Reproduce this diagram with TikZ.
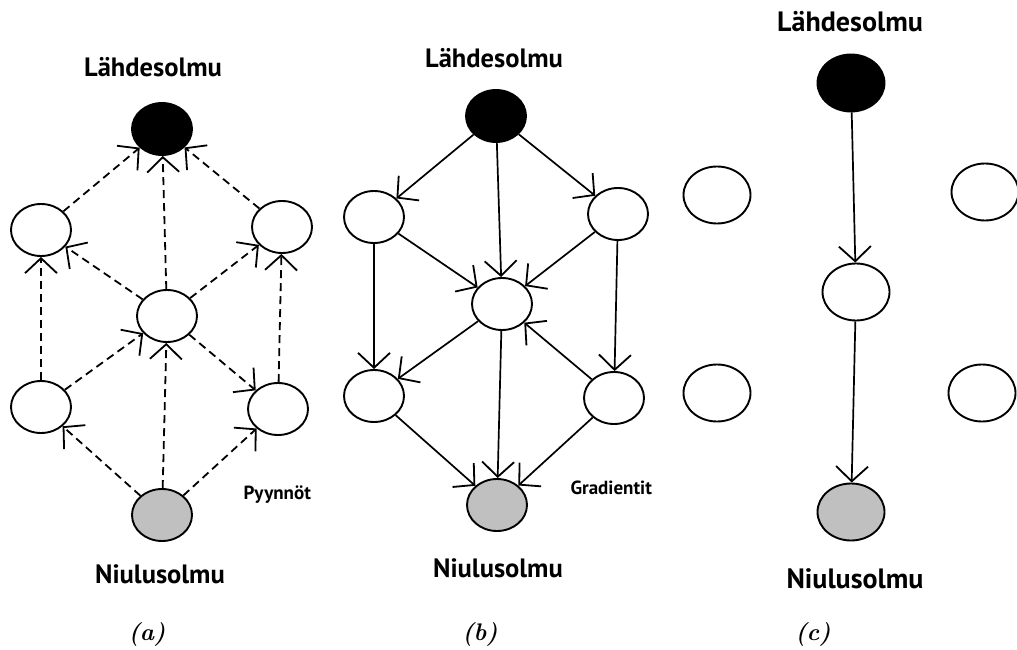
\documentclass[tikz,border=0pt]{standalone}
\usepackage{fontspec}
\newfontfamily\labelfont{PT Sans}
\usetikzlibrary{arrows.meta,shapes.geometric}
\definecolor{sinkgray}{RGB}{192,192,192}

\begin{document}
\begin{tikzpicture}[x=1pt,y=-1pt,
  vtx/.style={ellipse,draw,line width=1.9pt,minimum width=60pt,minimum height=52pt,inner sep=0pt,fill=white},
  bigvtx/.style={vtx,minimum width=67pt,minimum height=57pt},
  src/.style={fill=black},
  snk/.style={fill=sinkgray},
  tip/.style={-{Straight Barb[length=15pt,width=32pt,line width=1.8pt]}},
  req/.style={tip,line width=1.8pt,dash pattern=on 8pt off 5pt},
  grad/.style={tip,line width=1.7pt},
  title/.style={font=\labelfont\bfseries\fontsize{26.5}{30}\selectfont,anchor=base},
  bigtitle/.style={title,font=\labelfont\bfseries\fontsize{28}{32}\selectfont},
  note/.style={font=\labelfont\bfseries\fontsize{19}{22}\selectfont,anchor=base west},
  caption/.style={font=\bfseries\itshape\fontsize{24}{28}\selectfont,anchor=base}]
\useasboundingbox (0,0) rectangle (1017,650);

% ---- (a): requests travel from the sink towards the source
\node[title] (aTop) at (153,77) {Lähdesolmu};
\node[vtx,src] (aS)  at (162,129) {};
\node[vtx]     (aLT) at (41,230) {};
\node[vtx]     (aRT) at (282,227) {};
\node[vtx]     (aC)  at (167,316) {};
\node[vtx]     (aLB) at (41,407) {};
\node[vtx]     (aRB) at (278,409) {};
\node[vtx,snk] (aK)  at (162,515) {};
\node[title] (aBot) at (160,583) {Niulusolmu};
\node[note]  (aNote) at (240,499) {Pyynnöt};
\node[caption] (aCap) at (147,640) {(a)};

\draw[req] (aLT) -- (aS);
\draw[req] (aC)  -- (aS);
\draw[req] (aRT) -- (aS);
\draw[req] (aLB) -- (aLT);
\draw[req] (aC)  -- (aLT);
\draw[req] (aC)  -- (aRT);
\draw[req] (aRB) -- (aRT);
\draw[req] (aLB) -- (aC);
\draw[req] (aK)  -- (aC);
\draw[req] (aC)  -- (aRB);
\draw[req] (aK)  -- (aLB);
\draw[req] (aK)  -- (aRB);

% ---- (b): gradients flow from the source down to the sink
\node[title] (bTop) at (494,68) {Lähdesolmu};
\node[vtx,src] (bS)  at (496,116) {};
\node[vtx]     (bLT) at (374,217) {};
\node[vtx]     (bRT) at (618,214) {};
\node[vtx]     (bC)  at (502,304) {};
\node[vtx]     (bLB) at (374,396) {};
\node[vtx]     (bRB) at (614,398) {};
\node[vtx,snk] (bK)  at (497,505) {};
\node[title] (bBot) at (498,577) {Niulusolmu};
\node[note]  (bNote) at (567,494) {Gradientit};
\node[caption] (bCap) at (480,640) {(b)};

\draw[grad] (bS)  -- (bLT);
\draw[grad] (bS)  -- (bC);
\draw[grad] (bS)  -- (bRT);
\draw[grad] (bLT) -- (bC);
\draw[grad] (bRT) -- (bC);
\draw[grad] (bLT) -- (bLB);
\draw[grad] (bRT) -- (bRB);
\draw[grad] (bC)  -- (bLB);
\draw[grad] (bC)  -- (bK);
\draw[grad] (bRB) -- (bC);
\draw[grad] (bLB) -- (bK);
\draw[grad] (bRB) -- (bK);

% ---- (c): a single path through the network
\node[bigtitle] (cTop) at (850,32) {Lähdesolmu};
\node[bigvtx,src] (cS)  at (851,83) {};
\node[bigvtx]     (cL1) at (717,195) {};
\node[bigvtx]     (cR1) at (985,192) {};
\node[bigvtx]     (cM)  at (856,292) {};
\node[bigvtx]     (cL2) at (717,393) {};
\node[bigvtx]     (cR2) at (982,393) {};
\node[bigvtx,snk] (cK)  at (851,512) {};
\node[bigtitle] (cBot) at (855,588) {Niulusolmu};
\node[caption] (cCap) at (813,640) {(c)};

\draw[grad] (cS) -- (cM);
\draw[grad] (cM) -- (cK);
\end{tikzpicture}
\end{document}
